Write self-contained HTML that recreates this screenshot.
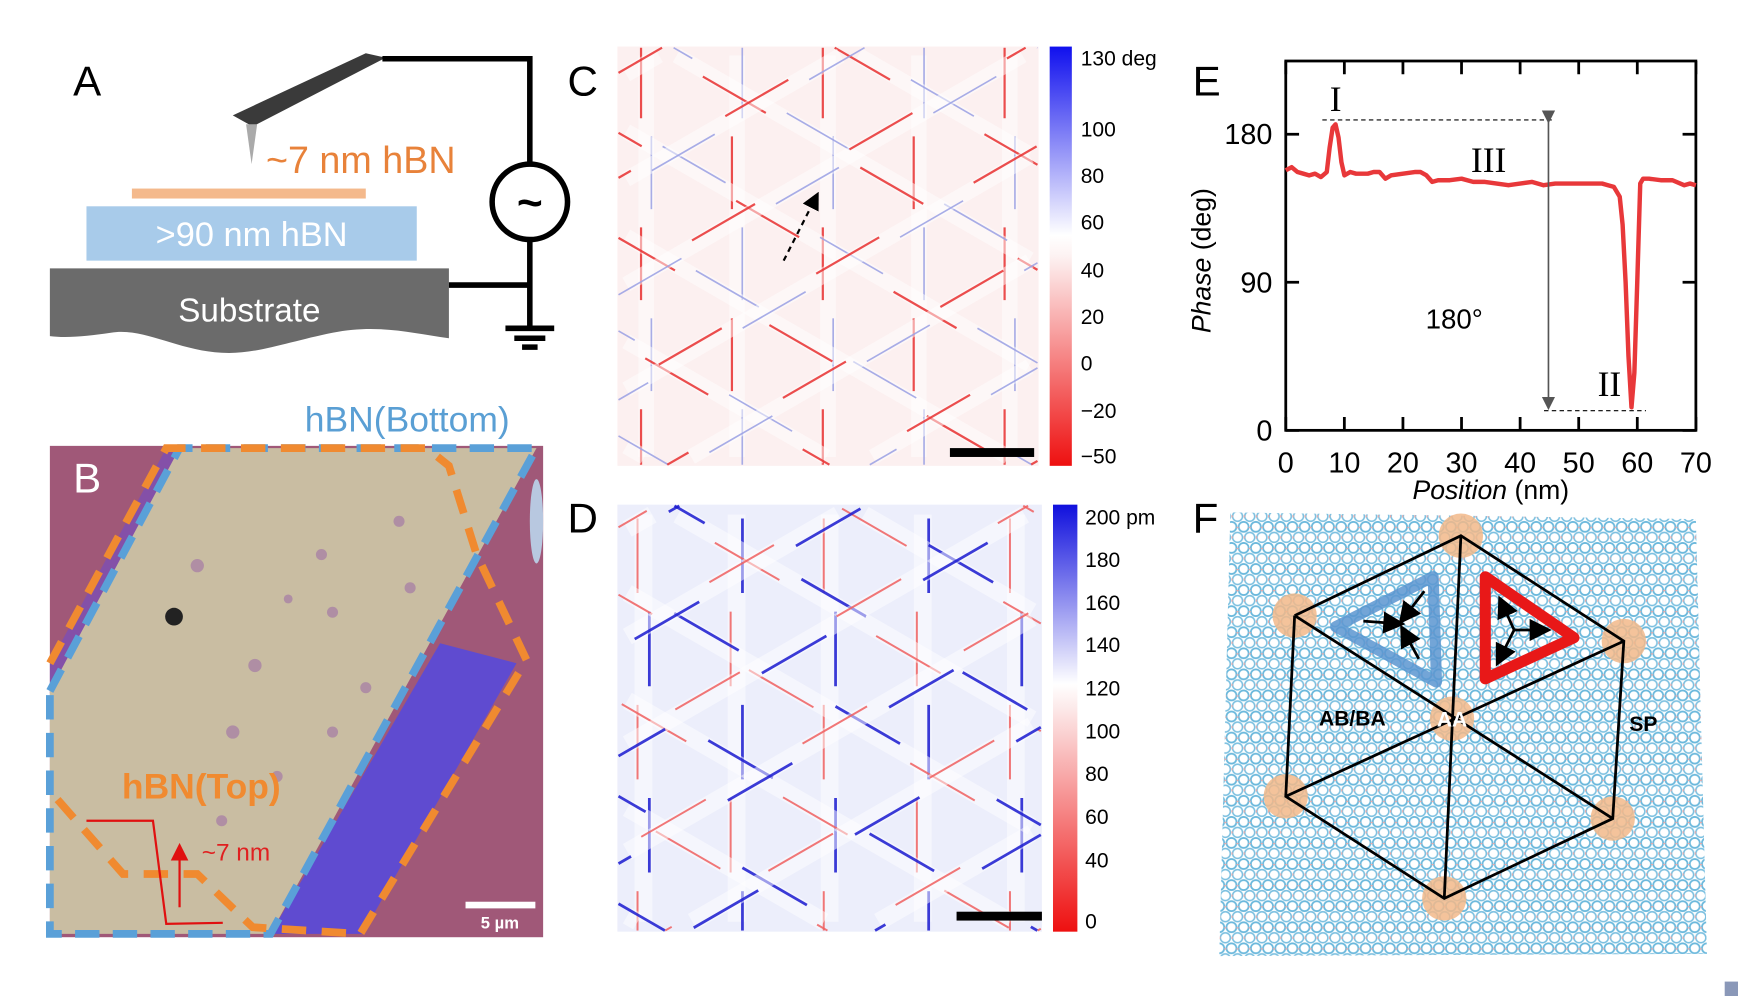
<!DOCTYPE html>
<html><head><meta charset="utf-8"><style>
html,body{margin:0;padding:0;background:#fff;width:1738px;height:996px;overflow:hidden;}
svg{display:block;font-family:"Liberation Sans",sans-serif;}
</style></head><body>
<svg id="fig" width="1738" height="996" viewBox="0 0 1568 898" preserveAspectRatio="none" xmlns="http://www.w3.org/2000/svg">
<defs>
<linearGradient id="cbC" x1="0" y1="0" x2="0" y2="1">
<stop offset="0" stop-color="#1010ee"/><stop offset="0.45" stop-color="#ffffff"/><stop offset="0.5" stop-color="#fdf2f2"/><stop offset="1" stop-color="#ee1010"/></linearGradient>
<linearGradient id="cbD" x1="0" y1="0" x2="0" y2="1">
<stop offset="0" stop-color="#1010dd"/><stop offset="0.42" stop-color="#ffffff"/><stop offset="0.48" stop-color="#fce8e8"/><stop offset="1" stop-color="#ee1010"/></linearGradient>
<pattern id="latt" width="11" height="19" patternUnits="userSpaceOnUse">
<rect width="11" height="19" fill="#fff"/>
<circle cx="0" cy="0" r="4.5" fill="none" stroke="#6ab8dc" stroke-width="1.6"/>
<circle cx="11" cy="0" r="4.5" fill="none" stroke="#6ab8dc" stroke-width="1.6"/>
<circle cx="5.5" cy="9.5" r="4.5" fill="none" stroke="#7cc0e0" stroke-width="1.4"/>
<circle cx="0" cy="19" r="4.5" fill="none" stroke="#6ab8dc" stroke-width="1.6"/>
<circle cx="11" cy="19" r="4.5" fill="none" stroke="#6ab8dc" stroke-width="1.6"/>
<circle cx="5.5" cy="0" r="1.2" fill="#e8a8a8"/>
<circle cx="0" cy="9.5" r="1.2" fill="#e8a8a8"/>
</pattern>
<marker id="ah" markerWidth="8" markerHeight="8" refX="4" refY="4" orient="auto"><path d="M0,0 L8,4 L0,8 z" fill="#000"/></marker>
<marker id="ahr" markerWidth="8" markerHeight="8" refX="4" refY="4" orient="auto"><path d="M0,0 L8,4 L0,8 z" fill="#e01010"/></marker>
<marker id="ahg" markerWidth="8" markerHeight="10" refX="7" refY="5" orient="auto"><path d="M0,1 L8,5 L0,9 z" fill="#555"/></marker>
</defs>

<!-- Panel A -->
<g>
<text x="66" y="86" font-size="38">A</text>
<path d="M45,242 L405,242 L405,305 C370,300 340,292 300,300 C260,308 230,320 200,318 C160,316 130,295 100,300 C80,303 60,305 45,303 Z" fill="#6b6b6b"/>
<text x="225" y="290" font-size="30" fill="#fff" text-anchor="middle">Substrate</text>
<rect x="78" y="186" width="298" height="49" fill="#a8cbea"/>
<text x="227" y="222" font-size="31" fill="#fff" text-anchor="middle">&gt;90 nm hBN</text>
<rect x="119" y="170" width="211" height="9" fill="#f4b98c"/>
<text x="240" y="156" font-size="34" fill="#e8823a">~7 nm hBN</text>
<polygon points="210,104 330,48 348,52 228,114" fill="#3a3a3a"/>
<polygon points="222,112 232,112 227,148" fill="#aaa"/>
<path d="M345,53 L478,53 L478,147 M478,217 L478,296 M405,257 L478,257" fill="none" stroke="#000" stroke-width="5"/>
<circle cx="478" cy="182" r="34" fill="#fff" stroke="#000" stroke-width="5"/>
<text x="478" y="196" font-size="40" font-weight="bold" text-anchor="middle">~</text>
<path d="M456,296 L500,296 M464,305 L492,305 M471,313 L485,313" stroke="#000" stroke-width="5"/>
</g>

<!-- Panel B -->
<g>
<text x="275" y="389" font-size="32" fill="#5a9fd4">hBN(Bottom)</text>
<rect x="45" y="402" width="445" height="443" fill="#a05878"/>
<polygon points="45,598 150,404 170,404 45,625" fill="#8450a8"/>
<polygon points="162,404 484,404 244,842 45,842 45,623" fill="#c9bda2"/>
<polygon points="397,580 466,598 327,842 244,842" fill="#5f4bd0"/>
<ellipse cx="484" cy="470" rx="6" ry="38" fill="#b8c8e0"/>
<ellipse cx="157" cy="556" rx="8" ry="8" fill="#222"/>
<g fill="#a57ba5" opacity="0.7">
<circle cx="178" cy="510" r="6"/><circle cx="230" cy="600" r="6"/><circle cx="300" cy="552" r="5"/><circle cx="210" cy="660" r="6"/><circle cx="250" cy="700" r="5"/><circle cx="330" cy="620" r="5"/><circle cx="290" cy="500" r="5"/><circle cx="360" cy="470" r="5"/><circle cx="200" cy="740" r="5"/><circle cx="300" cy="660" r="5"/><circle cx="370" cy="530" r="5"/><circle cx="260" cy="540" r="4"/>
</g>
<polyline points="45,623 162,404 484,404 244,842 45,842 45,623" fill="none" stroke="#5aa0d8" stroke-width="7" stroke-dasharray="22 12"/>
<polyline points="45,598 150,404 385,404 405,420 430,500 475,595 325,842 228,836 178,788 111,788 45,713" fill="none" stroke="#f08a30" stroke-width="7" stroke-dasharray="22 14"/>
<text x="66" y="444" font-size="38" fill="#fff">B</text>
<text x="110" y="720" font-size="32" font-weight="bold" fill="#f08a30">hBN(Top)</text>
<polyline points="78,740 138,740 150,833 201,832" fill="none" stroke="#e01010" stroke-width="2"/>
<line x1="162" y1="818" x2="162" y2="768" stroke="#e01010" stroke-width="2" marker-end="url(#ahr)"/>
<text x="182" y="776" font-size="22" fill="#e02020">~7 nm</text>
<rect x="420" y="813" width="63" height="6" fill="#fff"/>
<text x="451" y="837" font-size="15" font-weight="bold" fill="#fff" text-anchor="middle">5 µm</text>
</g>

<!-- Panel C -->
<g>
<text x="512" y="86" font-size="38">C</text>
<rect x="557" y="42" width="380" height="378" fill="#fcf0f0"/>
<g id="mapC"></g>
<line x1="707" y1="235" x2="735" y2="180" stroke="#000" stroke-width="2" stroke-dasharray="5 4" marker-end="url(#ah)"/>
<rect x="857" y="404" width="76" height="8" fill="#000"/>
<rect x="947" y="42" width="20" height="378" fill="url(#cbC)"/>
<g id="cbCl" font-size="19"></g>
</g>

<!-- Panel D -->
<g>
<text x="512" y="480" font-size="38">D</text>
<rect x="557" y="455" width="383" height="385" fill="#eceefb"/>
<g id="mapD"></g>
<rect x="863" y="822" width="77" height="8" fill="#000"/>
<rect x="950" y="455" width="22" height="385" fill="url(#cbD)"/>
<g id="cbDl" font-size="19"></g>
</g>

<!-- Panel E -->
<g id="panelE">
<text x="1076" y="86" font-size="38">E</text>
</g>

<!-- Panel F -->
<g>
<text x="1076" y="480" font-size="38">F</text>
<polygon points="1110,462 1530,468 1540,860 1100,862" fill="url(#latt)"/>
<g fill="#f2b98a" opacity="0.85">
<circle cx="1318" cy="483" r="20"/><circle cx="1168" cy="555" r="20"/><circle cx="1465" cy="578" r="20"/><circle cx="1310" cy="648" r="20"/><circle cx="1160" cy="718" r="20"/><circle cx="1455" cy="738" r="20"/><circle cx="1303" cy="810" r="20"/>
</g>
<g stroke="#000" stroke-width="2.5" fill="none">
<polyline points="1168,555 1318,483 1465,578 1455,738 1303,810 1160,718 1168,555"/>
<line x1="1318" y1="483" x2="1303" y2="810"/>
<line x1="1168" y1="555" x2="1455" y2="738"/>
<line x1="1465" y1="578" x2="1160" y2="718"/>
</g>
<polygon points="1205,565 1293,520 1296,615" fill="none" stroke="#5a95d0" stroke-width="10" stroke-linejoin="round" opacity="0.85"/>
<polygon points="1340,520 1420,575 1340,612" fill="none" stroke="#e81818" stroke-width="10" stroke-linejoin="round"/>
<g stroke="#000" stroke-width="2.5" marker-end="url(#ah)">
<line x1="1230" y1="560" x2="1258" y2="562"/><line x1="1285" y1="533" x2="1268" y2="555"/><line x1="1280" y1="594" x2="1268" y2="572"/>
<line x1="1366" y1="568" x2="1356" y2="546"/><line x1="1366" y1="568" x2="1390" y2="568"/><line x1="1366" y1="568" x2="1354" y2="592"/>
</g>
<text x="1190" y="654" font-size="19" font-weight="bold">AB/BA</text>
<text x="1310" y="655" font-size="19" font-weight="bold" fill="#fff" text-anchor="middle">AA</text>
<text x="1470" y="659" font-size="19" font-weight="bold">SP</text>
</g>
<rect x="1556" y="885" width="12" height="13" fill="#8a98b8"/>
</svg>
<script>
// Panel E data
const positionNm = [0,1,2,3,4,5,6,7,7.5,8,8.5,9,9.5,10,11,12,13,14,15,16,17,18,20,22,23,24,25,26,28,30,32,34,36,38,40,42,44,46,48,50,52,54,55,56,57,57.5,58,58.5,59,59.5,60,60.5,61,62,64,66,68,69,70];
const phaseDeg = [158,160,157,156,155,156,154,157,172,184,186,178,163,155,157,156,156,156,157,157,153,155,156,157,157,155,151,152,152,153,151,151,150,149,150,151,149,150,150,150,150,150,149,148,142,125,90,45,14,35,90,150,153,153,152,152,149,150,149];
const xTicks = [0,10,20,30,40,50,60,70];
const yTicks = [0,90,180];
const cbCTicks = ["130 deg","100","80","60","40","20","0","\u221220","\u221250"];
const cbDTicks = ["200 pm","180","160","140","120","100","80","60","40","0"];

const NS="http://www.w3.org/2000/svg";
function mk(tag, attrs, parent){const e=document.createElementNS(NS,tag);for(const k in attrs)e.setAttribute(k,attrs[k]);parent.appendChild(e);return e;}

const L=1160,R=1530,T=55,B=388;
const xS=v=>L+(v-0)/(70-0)*(R-L);
const yS=v=>B-(v-0)/(180-0)*(B-121);
const E=document.getElementById('panelE');

const frame=mk('rect',{x:L,y:T,width:R-L,height:B-T,fill:'none',stroke:'#000','stroke-width':2.5},E);


xTicks.forEach(t=>{
  const x=xS(t);
  const tk=mk('path',{d:`M${x},${B} v-12 M${x},${T} v12`,stroke:'#000','stroke-width':2.5},E);
  
  
  const lb=mk('text',{x:x,y:B+38,'font-size':26,'text-anchor':'middle'},E);lb.textContent=t;
  
  
});
yTicks.forEach(t=>{
  const y=yS(t);
  const tk=mk('path',{d:`M${L},${y} h12 M${R},${y} h-12`,stroke:'#000','stroke-width':2.5},E);
  
  
  const lb=mk('text',{x:L-12,y:y+9,'font-size':26,'text-anchor':'end'},E);lb.textContent=t;
  
  
});
const d=positionNm.map((p,i)=>(i?'L':'M')+xS(p).toFixed(1)+','+yS(phaseDeg[i]).toFixed(1)).join(' ');
const line=mk('path',{d:d,fill:'none',stroke:'#e8383a','stroke-width':4,'stroke-linejoin':'round'},E);


const maxV=Math.max(...phaseDeg),minV=Math.min(...phaseDeg);
const d1=mk('line',{x1:1193,x2:1403,y1:yS(maxV)-4,y2:yS(maxV)-4,stroke:'#000','stroke-width':1,'stroke-dasharray':'4 3'},E);


const d2=mk('line',{x1:1393,x2:1485,y1:yS(minV)+3,y2:yS(minV)+3,stroke:'#000','stroke-width':1,'stroke-dasharray':'4 3'},E);


const ar=mk('line',{x1:1397,x2:1397,y1:yS(maxV)-2,y2:yS(minV)+1,stroke:'#555','stroke-width':1.5,'marker-end':'url(#ahg)','marker-start':'url(#ahg)'},E);


[["I",1205,100,'label-i'],["III",1343,155,'label-iii'],["II",1452,357,'label-ii']].forEach(a=>{
  const t=mk('text',{x:a[1],y:a[2],'font-size':32,'text-anchor':'middle','font-family':'Liberation Serif, serif'},E);t.textContent=a[0];
  
  
});
const t180=mk('text',{x:1312,y:296,'font-size':25,'text-anchor':'middle'},E);t180.textContent='180°';


const yt=mk('text',{x:0,y:0,'font-size':24,'text-anchor':'middle',transform:'translate(1092,235) rotate(-90)'},E);
yt.innerHTML='<tspan font-style="italic">Phase</tspan> (deg)';


const xt=mk('text',{x:1345,y:450,'font-size':24,'text-anchor':'middle'},E);
xt.innerHTML='<tspan font-style="italic">Position</tspan> (nm)';



// colorbar labels
const gC=document.getElementById('cbCl');
cbCTicks.forEach((s,i)=>{const y=[52,116,158,200,243,285,327,370,411][i];
  const t=mk('text',{x:975,y:y+7},gC);t.textContent=s;
  
  });
const gD=document.getElementById('cbDl');
cbDTicks.forEach((s,i)=>{const y=[466,504,543,581,620,659,697,736,775,830][i];
  const t=mk('text',{x:979,y:y+7},gD);t.textContent=s;
  
  });

// clip a segment to rectangle (Liang-Barsky)
function clipSeg(x1,y1,x2,y2,xa,ya,xb,yb){
  let t0=0,t1=1;const dx=x2-x1,dy=y2-y1;
  const p=[-dx,dx,-dy,dy],q=[x1-xa,xb-x1,y1-ya,yb-y1];
  for(let i=0;i<4;i++){
    if(Math.abs(p[i])<1e-9){if(q[i]<0)return null;continue;}
    const r=q[i]/p[i];
    if(p[i]<0){if(r>t1)return null;if(r>t0)t0=r;}else{if(r<t0)return null;if(r<t1)t1=r;}
  }
  return [x1+t0*dx,y1+t0*dy,x1+t1*dx,y1+t1*dy,t0];
}
// domain wall maps (texture)
function drawMap(g,x0,y0,w,h,sp,wide,wcol,red,blue,wR,wB){
  const cx=x0+w/2,cy=y0+h/2,Lh=600;
  const xa=x0+1,ya=y0+1,xb=x0+w-1,yb=y0+h-1;
  [90,30,150].forEach((ang,fi)=>{
    const a=ang*Math.PI/180,nx=-Math.sin(a),ny=Math.cos(a),dx=Math.cos(a),dy=Math.sin(a);
    for(let k=-6;k<=6;k++){
      const px=cx+nx*k*sp+(fi*13),py=cy+ny*k*sp;
      const off=(k+fi)%2?0:sp;
      [[0,wcol,wide,0.5,null,'domain-band'],[wide/3,red,wR,0.85,off,'red-wall'],[-wide/3,blue,wB,0.85,off+sp,'blue-wall']].forEach(s=>{
        const ox=px+nx*s[0],oy=py+ny*s[0];
        const c=clipSeg(ox-dx*Lh,oy-dy*Lh,ox+dx*Lh,oy+dy*Lh,xa+wide/2*(s[4]===null?1:0),ya+(s[4]===null?wide/2:0),xb-(s[4]===null?wide/2:0),yb-(s[4]===null?wide/2:0));
        if(!c)return;
        const at={x1:c[0],y1:c[1],x2:c[2],y2:c[3],stroke:s[1],'stroke-width':s[2],opacity:s[3]};
        if(s[4]!==null){at['stroke-dasharray']=`${sp*0.8} ${sp*1.2}`;at['stroke-dashoffset']=s[4]+c[4]*2*Lh;}
        const el=mk('line',at,g);
        
        
      });
    }
  });
}
drawMap(document.getElementById('mapC'),557,42,380,378,82,14,'#ffffff','#e83030','#9aa0e4',2,1.5);
drawMap(document.getElementById('mapD'),557,455,383,385,84,16,'#ffffff','#f06060','#1a1ad0',1.8,2.5);
</script>
</body></html>
